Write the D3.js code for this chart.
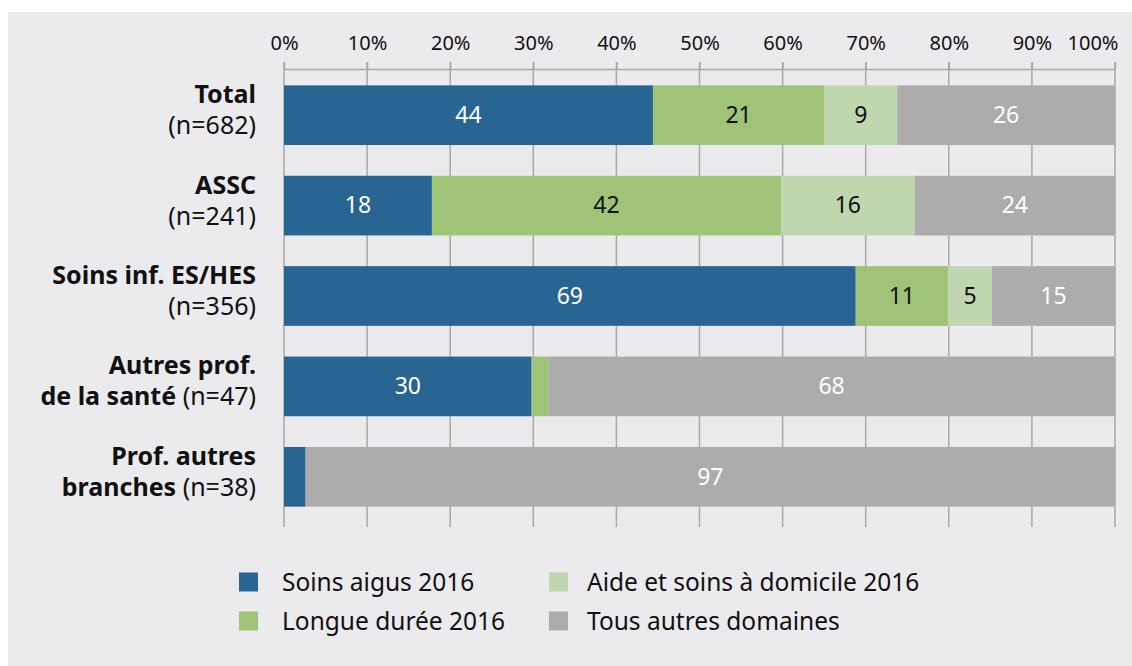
<!DOCTYPE html>
<html>
<head>
<meta charset="utf-8">
<script src="https://cdn.jsdelivr.net/npm/d3@7"></script>
<style>
  body { margin: 0; background: #fff; }
  svg { display: block; font-family: "Noto Sans", sans-serif; }
</style>
</head>
<body>
<script>
// categories: each line is [bold part, normal part]
var groupLines = [
  [["Total", ""], ["", "(n=682)"]],
  [["ASSC", ""], ["", "(n=241)"]],
  [["Soins inf. ES/HES", ""], ["", "(n=356)"]],
  [["Autres prof.", ""], ["de la santé", " (n=47)"]],
  [["Prof. autres", ""], ["branches", " (n=38)"]]
];
var seriesNames = ["Soins aigus 2016", "Longue durée 2016", "Aide et soins à domicile 2016", "Tous autres domaines"];
var soinsAigus   = [44.4, 17.8, 68.8, 29.8, 2.6];
var longueDuree  = [20.6, 42.0, 11.1, 2.0, 0];
var aideDomicile = [8.8, 16.1, 5.3, 0, 0];
var autres       = [26.2, 24.1, 14.8, 68.2, 97.4];
var tickValues = [0, 10, 20, 30, 40, 50, 60, 70, 80, 90, 100];

var colors = ["#286592", "#9fc477", "#c0d6ae", "#abacab"];
var labelColors = ["#fff", "#111", "#111", "#fff"];

var W = 1132, H = 666;
var svg = d3.select("body").append("svg").attr("width", W).attr("height", H);

// panel
svg.append("rect").attr("x", 8).attr("y", 12).attr("width", W - 8).attr("height", H - 12)
   .attr("fill", "#ebebed");

var x = d3.scaleLinear().domain([0, 100]).range([284, 1115]);
var y = d3.scaleBand().domain(d3.range(groupLines.length)).range([70, 522]).paddingInner(0.34).paddingOuter(0.17);

// grid lines
svg.append("g").selectAll("line").data(tickValues).join("line")
   .attr("x1", d => x(d)).attr("x2", d => x(d))
   .attr("y1", 62).attr("y2", 527)
   .attr("stroke", "#a9a9a9").attr("stroke-width", 1.5);

// axis
var axis = svg.append("g").attr("transform", "translate(0,69)")
   .call(d3.axisTop(x).tickValues(tickValues).tickFormat(d => d + "%").tickSize(7).tickSizeOuter(0).tickPadding(12));
axis.select(".domain").attr("stroke", "#a9a9a9").attr("stroke-width", 1.5);
axis.selectAll(".tick line").attr("stroke", "#a9a9a9").attr("stroke-width", 1.5);
axis.selectAll(".tick text").attr("font-size", 20).attr("fill", "#111").attr("font-family", "Noto Sans")
   .filter(d => d === 100).attr("text-anchor", "end").attr("x", 3);

// stacked data
var rows = groupLines.map((g, i) => [soinsAigus[i], longueDuree[i], aideDomicile[i], autres[i]]);
var keys = d3.range(seriesNames.length);
var stacked = d3.stack().keys(keys).value((row, k) => row[k])(rows);

var layers = svg.append("g").selectAll("g").data(stacked).join("g")
   .attr("fill", (d, i) => colors[i]);

layers.selectAll("rect").data(d => d.map((v, i) => ({v: v, i: i}))).join("rect")
   .attr("x", d => x(d.v[0]))
   .attr("y", d => y(d.i))
   .attr("width", d => Math.max(0, x(d.v[1]) - x(d.v[0])))
   .attr("height", y.bandwidth());

// value labels
stacked.forEach((layer, k) => {
  svg.append("g").selectAll("text").data(layer.map((v, i) => ({v: v, i: i})).filter(d => d.v[1] - d.v[0] >= 4))
     .join("text")
     .attr("x", d => (x(d.v[0]) + x(d.v[1])) / 2)
     .attr("y", d => y(d.i) + y.bandwidth() / 2)
     .attr("dy", "0.34em")
     .attr("text-anchor", "middle")
     .attr("font-size", 23)
     .attr("fill", labelColors[k])
     .text(d => Math.round(d.v[1] - d.v[0]));
});

// category labels, right aligned, one text per line
var labelG = svg.append("g");
groupLines.forEach((lines, i) => {
  var cy = y(i) + y.bandwidth() / 2;
  lines.forEach((ln, j) => {
    var t = labelG.append("text")
       .attr("x", 256).attr("y", cy + (j === 0 ? -12 : 19))
       .attr("text-anchor", "end").attr("font-size", 25).attr("fill", "#111");
    if (ln[0]) t.append("tspan").attr("font-weight", "bold").text(ln[0]);
    if (ln[1]) t.append("tspan").text(ln[1]);
  });
});

// legend
var legendPos = [[239, 582, 43], [239, 621, 43], [549, 582, 38], [549, 621, 38]];
var leg = svg.append("g").selectAll("g").data(seriesNames).join("g")
   .attr("transform", (d, i) => "translate(" + legendPos[i][0] + "," + legendPos[i][1] + ")");
leg.append("rect").attr("x", 0).attr("y", -9.5).attr("width", 19).attr("height", 19)
   .attr("fill", (d, i) => colors[i]);
leg.append("text").attr("x", (d, i) => legendPos[i][2]).attr("dy", "0.36em").attr("font-size", 24.5).attr("fill", "#111")
   .text(d => d);
</script>
</body>
</html>
